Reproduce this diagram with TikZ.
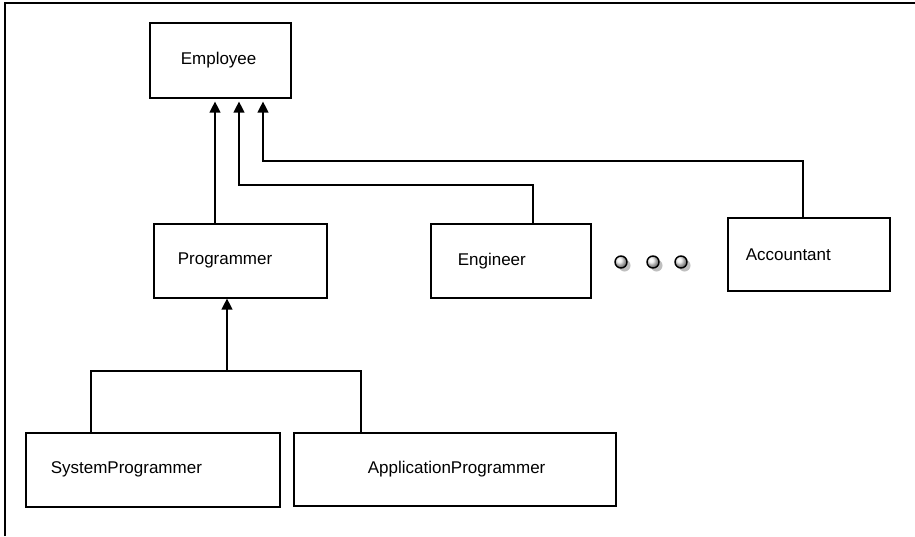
\documentclass[tikz,border=0pt]{standalone}
\usepackage{fontspec}
\setmainfont{Liberation Sans}
\usetikzlibrary{arrows.meta,shadings}
\begin{document}
\begin{tikzpicture}[x=1pt,y=-1pt,
  box/.style={draw,line width=1.6pt,anchor=north west,inner ysep=0pt,align=left,
    font=\fontsize{17}{19}\selectfont},
  conn/.style={line width=1.3pt},
  arr/.style={conn,-{Triangle[length=11pt,width=11pt]}},
  frame/.style={line width=2pt},
  dot/.style={circle,draw,line width=1.4pt,minimum size=12pt,inner sep=0pt,
        shading=ball,ball color=gray!12}
]
\useasboundingbox (0,0) rectangle (915,536);
\draw[frame] (5,536) -- (5,3) -- (915,3);

% boxes: minimum width = text width + 2*inner xsep
\node[box,minimum width=141pt,minimum height=75pt,inner xsep=31pt,text width=79pt] (emp) at (149,22) {Employee};
\node[box,minimum width=173pt,minimum height=74pt,inner xsep=24pt,text width=125pt] (prog) at (153,223) {Programmer};
\node[box,minimum width=160pt,minimum height=74pt,inner xsep=27pt,text width=106pt] (eng) at (430,223) {Engineer};
\node[box,minimum width=162pt,minimum height=73pt,inner xsep=18pt,text width=126pt] (acc) at (727,217) {Accountant};
\node[box,minimum width=254pt,minimum height=74pt,inner xsep=25pt,text width=204pt] (sys) at (25,432) {SystemProgrammer};
\node[box,minimum width=322pt,minimum height=73pt,inner xsep=74pt,text width=174pt] (app) at (293,432) {ApplicationProgrammer};

% connector guide coordinates
\coordinate (x1) at (215,0);
\coordinate (x2) at (239,185);
\coordinate (x3) at (263,161);
\coordinate (e2) at (533,185);
\coordinate (e3) at (803,161);
\coordinate (bp) at (227,371);
\coordinate (bs) at (91,371);
\coordinate (ba) at (361,371);

\draw[arr,shorten >=3pt] (x1 |- prog.north) -- (x1 |- emp.south);
\draw[arr,shorten >=3pt] (e2 |- eng.north) -- (e2) -- (x2) -- (x2 |- emp.south);
\draw[arr,shorten >=3pt] (e3 |- acc.north) -- (e3) -- (x3) -- (x3 |- emp.south);

\draw[conn] (bs |- sys.north) -- (bs) -- (ba) -- (ba |- app.north);
\draw[arr] (bp) -- (bp |- prog.south);

% dots
\foreach \cx/\nm in {621/d1,653/d2,681/d3}{
  \fill[gray!50] (\cx+3.5,265.5) circle (6pt);
  \node[dot] (\nm) at (\cx,262) {};
}
\end{tikzpicture}
\end{document}
